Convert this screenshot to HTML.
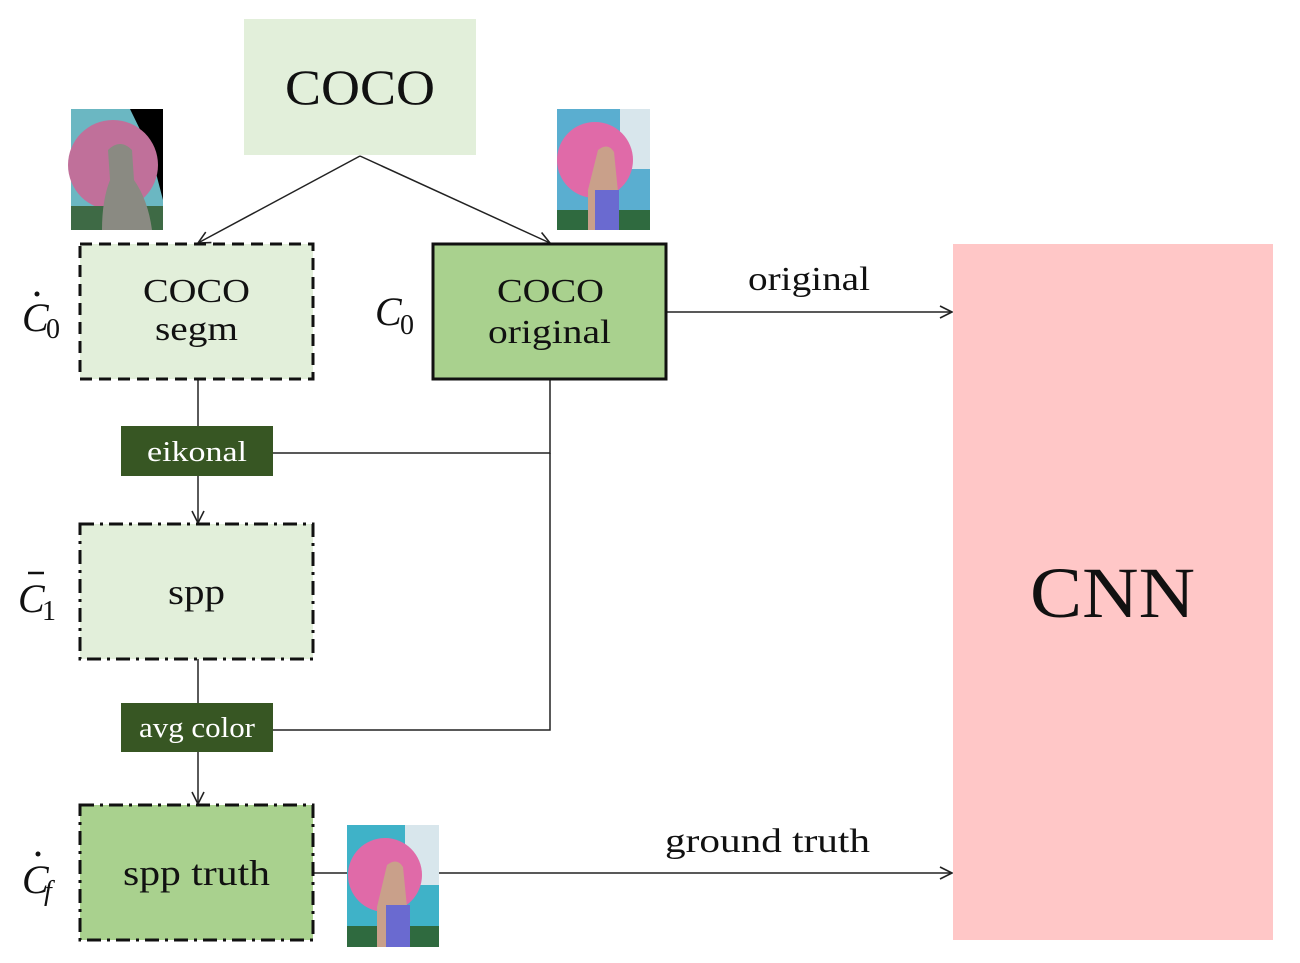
<!DOCTYPE html>
<html><head><meta charset="utf-8"><style>
html,body{margin:0;padding:0;background:#fff;}
svg{display:block;}
text{font-family:"Liberation Serif",serif;}
</style></head><body>
<svg width="1300" height="963" viewBox="0 0 1300 963" xmlns="http://www.w3.org/2000/svg">
<defs>
<marker id="a" markerWidth="16" markerHeight="16" refX="14" refY="8" orient="auto" markerUnits="userSpaceOnUse">
<path d="M2,2 L14,8 L2,14" fill="none" stroke="#222" stroke-width="1.6"/>
</marker>
</defs>
<!-- top COCO -->
<rect x="244" y="19" width="232" height="136" fill="#e2efda"/>
<text x="285" y="104" font-size="50" textLength="150" lengthAdjust="spacingAndGlyphs" fill="#111">COCO</text>
<!-- arrows from COCO -->
<line x1="360" y1="156" x2="198" y2="243" stroke="#222" stroke-width="1.5" marker-end="url(#a)"/>
<line x1="360" y1="156" x2="550" y2="243" stroke="#222" stroke-width="1.5" marker-end="url(#a)"/>
<!-- connectors -->
<line x1="198" y1="379" x2="198" y2="426" stroke="#222" stroke-width="1.5"/>
<line x1="198" y1="476" x2="198" y2="523" stroke="#222" stroke-width="1.5" marker-end="url(#a)"/>
<line x1="198" y1="659" x2="198" y2="703" stroke="#222" stroke-width="1.5"/>
<line x1="198" y1="752" x2="198" y2="804" stroke="#222" stroke-width="1.5" marker-end="url(#a)"/>
<polyline points="273,453 550,453 550,379" fill="none" stroke="#222" stroke-width="1.5"/>
<polyline points="273,730 550,730 550,453" fill="none" stroke="#222" stroke-width="1.5"/>
<line x1="666" y1="312" x2="952" y2="312" stroke="#222" stroke-width="1.5" marker-end="url(#a)"/>
<line x1="313" y1="873" x2="952" y2="873" stroke="#222" stroke-width="1.5" marker-end="url(#a)"/>
<!-- images -->
<g>
<rect x="71" y="109" width="92" height="121" fill="#6bb7c2"/>
<polygon points="130,109 163,109 163,200 150,150" fill="#000"/>
<circle cx="113" cy="165" r="45" fill="#c0709a"/>
<rect x="71" y="206" width="92" height="24" fill="#3e6a45"/>
<path d="M108,150 q12,-12 24,0 l2,30 q14,20 18,50 l-50,0 q0,-30 8,-50 z" fill="#8a8a82"/>
</g>
<g>
<rect x="557" y="109" width="93" height="121" fill="#5aaed0"/>
<rect x="620" y="109" width="30" height="60" fill="#d8e6ec"/>
<circle cx="595" cy="160" r="38" fill="#e06aa8"/>
<rect x="557" y="210" width="93" height="20" fill="#2f6a3f"/>
<path d="M598,150 q10,-8 16,2 l4,40 l-6,38 l-24,0 l0,-40 z" fill="#c9a08a"/>
<rect x="595" y="190" width="24" height="40" fill="#6a6ad0"/>
</g>
<g>
<rect x="347" y="825" width="92" height="122" fill="#3fb2c8"/>
<rect x="405" y="825" width="34" height="60" fill="#d8e6ec"/>
<circle cx="385" cy="875" r="37" fill="#e06aa8"/>
<rect x="347" y="926" width="92" height="21" fill="#2f6a3f"/>
<path d="M387,865 q10,-8 16,2 l4,40 l-6,40 l-24,0 l0,-40 z" fill="#c9a08a"/>
<rect x="386" y="905" width="24" height="42" fill="#6a6ad0"/>
</g>
<!-- segm box -->
<rect x="80" y="244" width="233" height="135" fill="#e2efda" stroke="#111" stroke-width="3" stroke-dasharray="12,7"/>
<text x="143" y="302" font-size="34" textLength="107" lengthAdjust="spacingAndGlyphs" fill="#111">COCO</text>
<text x="155" y="340" font-size="34" textLength="83" lengthAdjust="spacingAndGlyphs" fill="#111">segm</text>
<!-- original box -->
<rect x="433" y="244" width="233" height="135" fill="#a9d18e" stroke="#111" stroke-width="3"/>
<text x="497" y="302" font-size="34" textLength="107" lengthAdjust="spacingAndGlyphs" fill="#111">COCO</text>
<text x="488" y="343" font-size="34" textLength="123" lengthAdjust="spacingAndGlyphs" fill="#111">original</text>
<!-- math labels -->
<text x="22" y="331" font-size="40" font-style="italic" fill="#111">C</text>
<text x="46" y="338" font-size="28" fill="#111">0</text>
<circle cx="37" cy="294" r="2.5" fill="#111"/>
<text x="375" y="325" font-size="40" font-style="italic" fill="#111">C</text>
<text x="400" y="334" font-size="28" fill="#111">0</text>
<text x="18" y="612" font-size="40" font-style="italic" fill="#111">C</text>
<text x="42" y="620" font-size="28" fill="#111">1</text>
<line x1="28" y1="573" x2="44" y2="573" stroke="#111" stroke-width="2.5"/>
<text x="22" y="893" font-size="40" font-style="italic" fill="#111">C</text>
<text x="44" y="900" font-size="28" font-style="italic" fill="#111">f</text>
<circle cx="38" cy="854" r="2.5" fill="#111"/>
<!-- eikonal -->
<rect x="121" y="426" width="152" height="50" fill="#375623"/>
<text x="147" y="461" font-size="28" textLength="100" lengthAdjust="spacingAndGlyphs" fill="#fff">eikonal</text>
<!-- spp -->
<rect x="80" y="524" width="233" height="135" fill="#e2efda" stroke="#111" stroke-width="3" stroke-dasharray="14,6,3,6"/>
<text x="168" y="604" font-size="36" textLength="57" lengthAdjust="spacingAndGlyphs" fill="#111">spp</text>
<!-- avg color -->
<rect x="121" y="703" width="152" height="49" fill="#375623"/>
<text x="139" y="737" font-size="28" textLength="116" lengthAdjust="spacingAndGlyphs" fill="#fff">avg color</text>
<!-- spp truth -->
<rect x="80" y="805" width="233" height="135" fill="#a9d18e" stroke="#111" stroke-width="3" stroke-dasharray="14,6,3,6"/>
<text x="123" y="885" font-size="36" textLength="147" lengthAdjust="spacingAndGlyphs" fill="#111">spp truth</text>
<!-- labels -->
<text x="748" y="290" font-size="34" textLength="122" lengthAdjust="spacingAndGlyphs" fill="#111">original</text>
<text x="665" y="852" font-size="34" textLength="205" lengthAdjust="spacingAndGlyphs" fill="#111">ground truth</text>
<!-- CNN -->
<rect x="953" y="244" width="320" height="696" fill="#ffc7c7"/>
<text x="1030" y="617" font-size="72" textLength="165" lengthAdjust="spacingAndGlyphs" fill="#111">CNN</text>
</svg>
</body></html>
